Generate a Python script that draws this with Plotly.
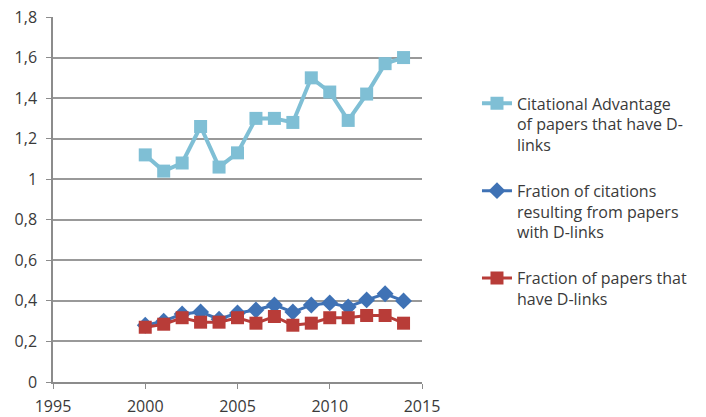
import plotly.graph_objects as go

years = [2000, 2001, 2002, 2003, 2004, 2005, 2006, 2007, 2008, 2009, 2010, 2011, 2012, 2013, 2014]
citational_advantage = [1.12, 1.04, 1.08, 1.26, 1.06, 1.13, 1.30, 1.30, 1.28, 1.50, 1.43, 1.29, 1.42, 1.57, 1.60]
fraction_citations = [0.28, 0.30, 0.335, 0.345, 0.31, 0.34, 0.355, 0.38, 0.345, 0.38, 0.39, 0.37, 0.405, 0.435, 0.40]
fraction_papers = [0.27, 0.285, 0.317, 0.295, 0.295, 0.317, 0.29, 0.323, 0.28, 0.29, 0.317, 0.317, 0.328, 0.328, 0.29]

names = [
    "Citational Advantage<br>of papers that have D-<br>links",
    "Fration of citations<br>resulting from papers<br>with D-links",
    "Fraction of papers that<br>have D-links",
]

fig = go.Figure()
fig.add_trace(go.Scatter(x=years, y=citational_advantage, name=names[0], mode="lines+markers",
                         legendgroup="a",
                         line=dict(color="#7fbfd5", width=4),
                         marker=dict(symbol="square", size=13, color="#7fbfd5")))
fig.add_trace(go.Scatter(x=years, y=fraction_citations, name=names[1], mode="lines+markers",
                         legendgroup="b",
                         line=dict(color="#3f72b5", width=3),
                         marker=dict(symbol="diamond", size=13, color="#3f72b5")))
fig.add_trace(go.Scatter(x=years, y=fraction_papers, name=names[2], mode="lines+markers",
                         legendgroup="c",
                         line=dict(color="#b83c38", width=3),
                         marker=dict(symbol="square", size=13, color="#b83c38")))

fig.update_layout(
    width=706, height=417,
    margin=dict(l=53, r=284, t=17, b=35, autoexpand=False),
    paper_bgcolor="white", plot_bgcolor="white",
    separators=", ",
    font=dict(family="Open Sans", size=16, color="#3a3a3a"),
    showlegend=True,
    legend=dict(x=1.149, y=0.81, xanchor="left", yanchor="top",
                font=dict(size=16, color="#3a3a3a"), tracegroupgap=22,
                traceorder="grouped", valign="top",
                itemwidth=30, bgcolor="rgba(0,0,0,0)"),
    xaxis=dict(range=[1995, 2015], tickvals=[1995, 2000, 2005, 2010, 2015],
               automargin=False,
               showgrid=False, showline=True, linecolor="#8c8c8c", linewidth=1.5,
               ticks="outside", ticklen=5, tickcolor="#8c8c8c", zeroline=False,
               ticklabelstandoff=4, tickfont=dict(size=16)),
    yaxis=dict(range=[0, 1.8], dtick=0.2, automargin=False,
               showgrid=True, gridcolor="#999999", gridwidth=1.5,
               showline=True, linecolor="#8c8c8c", linewidth=1.5,
               ticks="outside", ticklen=5, tickcolor="#8c8c8c", zeroline=False,
               ticklabelstandoff=6, tickfont=dict(size=16)),
)

fig.write_html("out.html")
